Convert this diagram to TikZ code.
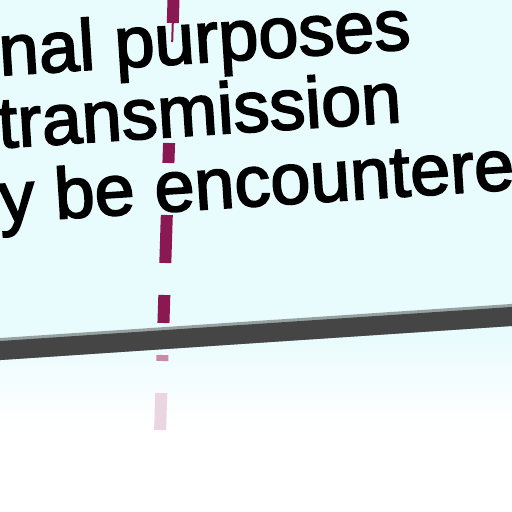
\documentclass[tikz,border=0pt]{standalone}
\usepackage{fontspec}
\setmainfont{Liberation Sans}
\newfontfamily\inkfont[FakeBold=2.5]{Liberation Sans}
\usetikzlibrary{calc}
\definecolor{skycyan}{RGB}{232,251,253}
\definecolor{wire}{RGB}{69,69,69}
\definecolor{wireedge}{RGB}{150,162,162}
\definecolor{plum}{RGB}{138,24,82}

\begin{document}
\begin{tikzpicture}
  [x=1pt,y=-1pt,
   wording/.style={anchor=base west,inner sep=0,rotate=3.7,font=\inkfont\fontsize{72}{72}\selectfont},
   seg/.style={line width=12pt}]
  \useasboundingbox (0,0) rectangle (512,512);
  \clip (0,0) rectangle (512,512);
  \fill[skycyan] (0,0) rectangle (512,332);
  \shade[top color=skycyan,bottom color=white] (0,332) rectangle (512,425);
  \fill[white] (0,425) rectangle (512,512);

  \coordinate (top) at (173.5,0);
  \coordinate (bot) at (159.5,450);
  \foreach \from/\to/\tint in {0/23/100,143/163/100,215/263/100,295/323/100,355/361/50,393/430/18}
    \draw[seg,plum!\tint] ($(top)!\from/450!(bot)$) -- ($(top)!\to/450!(bot)$);
  \draw[plum,line width=2pt] ($(top)!23/450!(bot)$) -- ($(top)!42/450!(bot)$);

  \coordinate (barW) at (-10,349.7);
  \coordinate (barE) at (522,314.3);
  \draw[wireedge,line width=22pt] (barW) -- (barE);
  \draw[wire,line width=19pt] ([yshift=-1.5pt]barW) -- ([yshift=-1.5pt]barE);

  \node[wording] (purposes) at (0,75.5) {nal purposes};
  \node[wording] (transmission) at (-1,148) {transmission};
  \node[wording] (encountered) at (0,222.5) {y be encountere};
\end{tikzpicture}
\end{document}
